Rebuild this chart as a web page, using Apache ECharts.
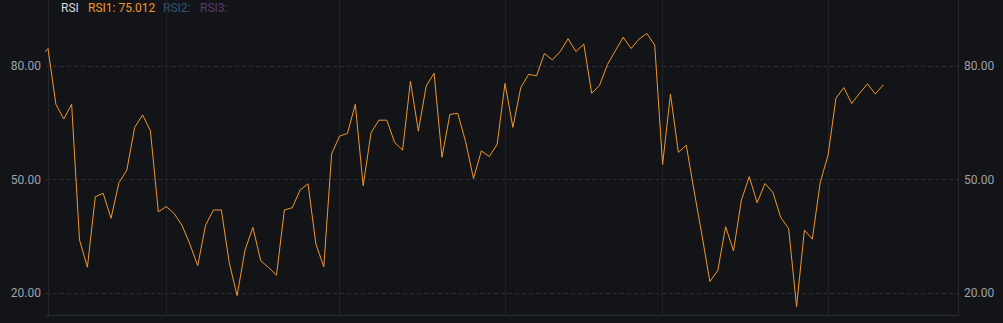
<!DOCTYPE html>
<html>
<head>
<meta charset="utf-8">
<script src="https://cdn.jsdelivr.net/npm/echarts@6/dist/echarts.min.js"></script>
<style>
  html, body { margin: 0; padding: 0; background: #131418; }
  #chart { width: 1003px; height: 323px; }
</style>
</head>
<body>
<div id="chart"></div>
<script>
// RSI1 values, one per bar; the first value belongs to the bar just left of the visible range
const firstIndex = -1;
const rsi1 = [
  82.5,
  84.6, 69.9, 66.0, 69.9, 34.1, 26.9, 45.5, 46.4, 39.8, 49.2,
  52.5, 63.8, 67.1, 62.9, 41.5, 42.9, 41.1, 38.0, 33.0, 27.3,
  38.0, 42.0, 42.0, 28.1, 19.4, 31.4, 37.4, 28.6, 26.8, 24.8,
  42.0, 42.6, 47.3, 48.9, 33.0, 27.0, 56.8, 61.5, 62.2, 69.9,
  48.4, 62.4, 65.7, 65.7, 59.8, 57.8, 76.0, 62.8, 74.7, 78.1,
  55.9, 67.2, 67.5, 60.0, 50.3, 57.6, 56.1, 59.3, 75.4, 63.8,
  74.3, 77.8, 77.4, 83.3, 81.6, 83.8, 87.2, 83.8, 85.8, 72.8,
  74.9, 80.4, 84.0, 87.6, 84.6, 87.1, 88.6, 85.5, 54.0, 72.6,
  57.2, 59.1, 47.0, 35.3, 23.1, 26.0, 37.6, 31.2, 44.6, 50.8,
  43.9, 49.0, 46.6, 40.0, 37.1, 16.5, 36.7, 34.3, 49.2, 56.5,
  71.5, 74.3, 70.1, 72.8, 75.3, 72.6, 75.012
];
// bar indices where the time axis draws a vertical divider
const periodStarts = [15, 37, 58, 78, 99];
// y tick labels
const yTicks = [20, 50, 80];
// legend texts
const legendItems = [
  { text: 'RSI', color: '#d6d9de', x: 61 },
  { text: 'RSI1: 75.012', color: '#f0972f', x: 88 },
  { text: 'RSI2:', color: '#2e5671', x: 163 },
  { text: 'RSI3:', color: '#573c68', x: 200 }
];

const seriesData = rsi1.map((v, k) => [firstIndex + k, v]);

const chart = echarts.init(document.getElementById('chart'), null, { renderer: 'svg' });
const yMin = 14.28, yMax = 97.42;
const fontFamily = 'Roboto, "Noto Sans", sans-serif';
const yAxisBase = {
  type: 'value',
  min: yMin,
  max: yMax,
  axisTick: { show: false, customValues: yTicks },
  axisLabel: {
    customValues: yTicks,
    formatter: v => v.toFixed(2),
    color: '#9ca2ac',
    fontSize: 12,
    fontFamily: fontFamily
  },
  axisLine: { show: true, lineStyle: { color: '#24262c', width: 1 } }
};

chart.setOption({
  animation: false,
  backgroundColor: '#131418',
  grid: { left: 46, right: 45, top: 0, bottom: 8 },
  xAxis: {
    type: 'value',
    min: -0.254,
    max: 115.49,
    axisLabel: { show: false },
    axisTick: { show: false, customValues: periodStarts },
    axisLine: { show: true, onZero: false, lineStyle: { color: '#2c2f36', width: 1 } },
    splitLine: { show: true, lineStyle: { color: '#202228', width: 1, type: 'solid' } }
  },
  yAxis: [
    Object.assign({}, yAxisBase, {
      position: 'left',
      axisLabel: Object.assign({}, yAxisBase.axisLabel, { margin: 5 }),
      splitLine: { show: true, lineStyle: { color: '#2b2e35', width: 1, type: [4, 3] } }
    }),
    Object.assign({}, yAxisBase, {
      position: 'right',
      axisLabel: Object.assign({}, yAxisBase.axisLabel, { margin: 6 }),
      splitLine: { show: false }
    })
  ],
  graphic: legendItems.map(it => ({
    type: 'text',
    left: it.x,
    top: 2,
    style: { text: it.text, fill: it.color, fontSize: 12, fontFamily: fontFamily }
  })),
  series: [{
    name: 'RSI1',
    type: 'line',
    data: seriesData,
    showSymbol: false,
    clip: true,
    lineStyle: { color: '#f0962e', width: 1 },
    itemStyle: { color: '#f0962e' }
  }]
});
</script>
</body>
</html>
